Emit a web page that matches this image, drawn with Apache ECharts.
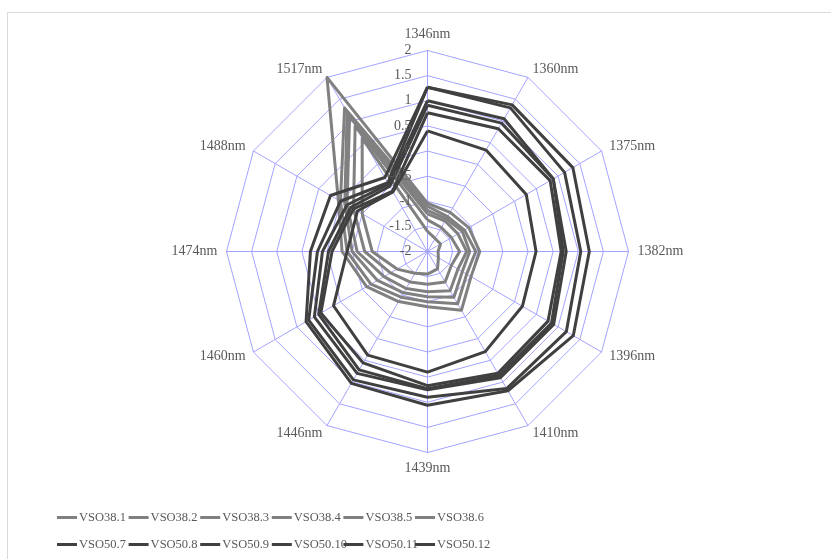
<!DOCTYPE html>
<html><head><meta charset="utf-8">
<script src="https://cdn.jsdelivr.net/npm/echarts@6/dist/echarts.min.js"></script>
<style>
html,body{margin:0;padding:0;background:#fff;}
#frame{position:absolute;left:7px;top:12px;width:900px;height:600px;border:1px solid #d9d9d9;box-sizing:border-box;}
#chart{position:absolute;left:0;top:0;width:831px;height:559px;}
</style></head>
<body>
<div id="frame"></div>
<div id="chart"></div>
<script>
const categories = ['1346nm','1360nm','1375nm','1382nm','1396nm','1410nm','1439nm','1446nm','1460nm','1474nm','1488nm','1517nm'];
const tickLabels = ['-2','-1.5','-1','-0.5','0','0.5','1','1.5','2'];
const seriesNames = ['VSO38.1','VSO38.2','VSO38.3','VSO38.4','VSO38.5','VSO38.6','VSO50.7','VSO50.8','VSO50.9','VSO50.10','VSO50.11','VSO50.12'];

const VSO38_1 = [-1.04,-1.10,-1.05,-0.96,-1.00,-0.65,-0.90,-0.85,-0.60,-0.30, 0.05, 2.00];
const VSO38_2 = [-1.10,-1.20,-1.15,-1.04,-1.10,-0.80,-1.00,-0.95,-0.70,-0.40, 0.00, 1.30];
const VSO38_3 = [-1.18,-1.25,-1.20,-1.16,-1.20,-0.95,-1.10,-1.05,-0.85,-0.50,-0.10, 1.20];
const VSO38_4 = [-1.25,-1.30,-1.30,-1.22,-1.30,-1.10,-1.20,-1.15,-1.00,-0.60,-0.15, 1.10];
const VSO38_5 = [-1.37,-1.45,-1.45,-1.36,-1.45,-1.30,-1.35,-1.30,-1.15,-0.75,-0.30, 0.88];
const VSO38_6 = [-1.60,-1.70,-1.70,-1.79,-1.75,-1.60,-1.55,-1.50,-1.30,-0.90,-0.50, 0.60];
const VSO50_7  = [1.27, 1.37, 1.34, 1.22, 1.35, 1.20, 1.06, 1.03, 0.79, 0.33, 0.23,-0.30];
const VSO50_8  = [1.27, 1.30, 1.15, 1.05, 1.19, 1.15, 0.90, 0.95, 0.73, 0.19, 0.00,-0.42];
const VSO50_9  = [1.00, 1.05, 0.89, 0.76, 0.90, 0.90, 0.75, 0.80, 0.60, 0.09,-0.15,-0.45];
const VSO50_10 = [0.91, 0.95, 0.89, 0.70, 0.85, 0.85, 0.73, 0.72, 0.50,-0.03,-0.24,-0.50];
const VSO50_11 = [0.76, 0.82, 0.82, 0.66, 0.77, 0.80, 0.67, 0.56, 0.45,-0.10,-0.30,-0.61];
const VSO50_12 = [0.40, 0.33, 0.27, 0.16, 0.18, 0.30, 0.40, 0.38, 0.16,-0.40,-0.39,-0.63];
const seriesValues = [VSO38_1,VSO38_2,VSO38_3,VSO38_4,VSO38_5,VSO38_6,VSO50_7,VSO50_8,VSO50_9,VSO50_10,VSO50_11,VSO50_12];

const GREY = '#808080', DARK = '#404040', GRID = '#a3a3ff', TXT = '#595959';
const FONT = '"Liberation Serif", "Times New Roman", serif';
const CENTER = [427.5, 251.5], RADIUS = 201;

// ECharts places radar indicators counter-clockwise; reorder so the axes run clockwise.
const order = [0].concat(categories.map((_, i) => categories.length - 1 - i).slice(0, categories.length - 1));
const reorder = arr => order.map(k => arr[k]);

const chart = echarts.init(document.getElementById('chart'), null, {renderer:'canvas'});
const series = seriesNames.map((n, i) => ({
  type: 'radar', name: n, symbol: 'none', silent: true,
  lineStyle: {width: 3, color: i < 6 ? GREY : DARK},
  itemStyle: {color: i < 6 ? GREY : DARK},
  data: [{name: n, value: reorder(seriesValues[i])}]
}));
const legends = seriesNames.map((n, i) => ({
  data: [n], left: 57 + 71.6 * (i % 6), top: i < 6 ? 511 : 538,
  icon: 'rect', itemWidth: 20, itemHeight: 3, padding: 0,
  textStyle: {fontFamily: FONT, fontSize: 12.5, color: TXT, padding: [0, 0, 0, -3]},
  selectedMode: false
}));
chart.setOption({
  animation: false,
  backgroundColor: 'transparent',
  radar: {
    center: CENTER, radius: RADIUS, startAngle: 90, shape: 'polygon', splitNumber: 8,
    indicator: reorder(categories).map(c => ({name: c, min: -2, max: 2})),
    axisName: {color: TXT, fontFamily: FONT, fontSize: 14},
    nameGap: 9,
    axisLine: {lineStyle: {color: GRID, width: 1}},
    splitLine: {lineStyle: {color: GRID, width: 1}},
    splitArea: {show: false},
    axisTick: {show: false}, axisLabel: {show: false}
  },
  polar: {center: CENTER, radius: RADIUS},
  angleAxis: {show: false, startAngle: 90, min: 0, max: 360},
  radiusAxis: {
    min: -2, max: 2, interval: 0.5, z: 10,
    axisLine: {show: false}, axisTick: {show: false}, splitLine: {show: false},
    axisLabel: {show: true, color: TXT, fontFamily: FONT, fontSize: 14, margin: 16,
      formatter: (v) => tickLabels[Math.round((v + 2) / 0.5)]}
  },
  legend: legends,
  series: series
});
</script>
</body></html>
